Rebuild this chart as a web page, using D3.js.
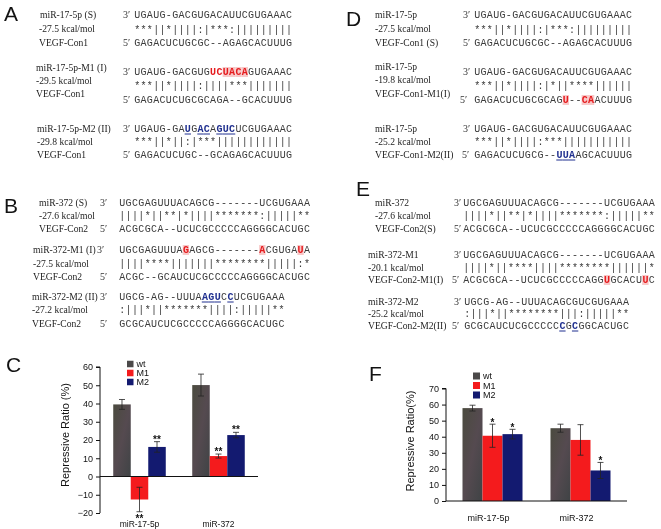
<!DOCTYPE html>
<html><head><meta charset="utf-8">
<script src="https://cdn.jsdelivr.net/npm/d3@7"></script>
<style>body{margin:0;background:#fff}svg{display:block}
.aa{opacity:0.995;will-change:transform}
text{-webkit-font-smoothing:antialiased}</style>
</head><body>
<script>
// ---------- DATA ----------
const categories = ["miR-17-5p", "miR-372"];
const seriesNames = ["wt", "M1", "M2"];

// Panel C
const cWt = [39.5, 50.1];
const cM1 = [-12.6, 11.2];
const cM2 = [16.2, 22.7];
const cWtErr = [2.7, 6.0];
const cM1Err = [6.7, 1.1];
const cM2Err = [2.9, 1.5];
const cWtSig = ["", ""];
const cM1Sig = ["**", "**"];
const cM2Sig = ["**", "**"];
const cTicks = [-20, -10, 0, 10, 20, 30, 40, 50, 60];

// Panel F
const fWt = [57.8, 45.3];
const fM1 = [40.6, 38.0];
const fM2 = [41.6, 19.0];
const fWtErr = [1.8, 2.5];
const fM1Err = [7.2, 9.5];
const fM2Err = [3.0, 5.0];
const fWtSig = ["", ""];
const fM1Sig = ["*", ""];
const fM2Sig = ["*", "*"];
const fTicks = [0, 10, 20, 30, 40, 50, 60, 70];

// Alignments (texts)
const alignA = [
  {mir:"miR-17-5p (S)", energy:"-27.5 kcal/mol", target:"VEGF-Con1",
   s3:"UGAUG-GACGUGACAUUCGUGAAAC", m:"***||*||||:|***:|||||||||", s5:"GAGACUCUGCGC--AGAGCACUUUG", hl3:{}, hl5:{}},
  {mir:"miR-17-5p-M1 (I)", energy:"-29.5 kcal/mol", target:"VEGF-Con1",
   s3:"UGAUG-GACGUGUCUACAGUGAAAC", m:"***||*||||:||||***|||||||", s5:"GAGACUCUGCGCAGA--GCACUUUG", hl3:{12:"r",13:"r",14:"R",15:"R",16:"R",17:"R"}, hl5:{}},
  {mir:"miR-17-5p-M2 (II)", energy:"-29.8 kcal/mol", target:"VEGF-Con1",
   s3:"UGAUG-GAUGACAGUCUCGUGAAAC", m:"***||*||:|***||||||||||||", s5:"GAGACUCUGC--GCAGAGCACUUUG", hl3:{8:"b",10:"b",11:"b",13:"b",14:"b",15:"b"}, hl5:{}}
];
const alignB = [
  {mir:"miR-372 (S)", energy:"-27.6 kcal/mol", target:"VEGF-Con2",
   s3:"UGCGAGUUUACAGCG-------UCGUGAAA", m:"||||*||**|*||||*******:|||||**", s5:"ACGCGCA--UCUCGCCCCCAGGGGCACUGC", hl3:{}, hl5:{}},
  {mir:"miR-372-M1 (I)", energy:"-27.5 kcal/mol", target:"VEGF-Con2",
   s3:"UGCGAGUUUAGAGCG-------ACGUGAUA", m:"||||****|||||||********|||||:*", s5:"ACGC--GCAUCUCGCCCCCAGGGGCACUGC", hl3:{10:"R",22:"R",28:"R"}, hl5:{}},
  {mir:"miR-372-M2 (II)", energy:"-27.2 kcal/mol", target:"VEGF-Con2",
   s3:"UGCG-AG--UUUAAGUCCUCGUGAAA", m:":|||*||*******||||:|||||**", s5:"GCGCAUCUCGCCCCCAGGGGCACUGC", hl3:{13:"b",14:"b",15:"b",17:"b"}, hl5:{}}
];
const alignD = [
  {mir:"miR-17-5p", energy:"-27.5 kcal/mol", target:"VEGF-Con1 (S)",
   s3:"UGAUG-GACGUGACAUUCGUGAAAC", m:"***||*||||:|***:|||||||||", s5:"GAGACUCUGCGC--AGAGCACUUUG", hl3:{}, hl5:{}},
  {mir:"miR-17-5p", energy:"-19.8 kcal/mol", target:"VEGF-Con1-M1(I)",
   s3:"UGAUG-GACGUGACAUUCGUGAAAC", m:"***||*||||:|*||****||||||", s5:"GAGACUCUGCGCAGU--CAACUUUG", hl3:{}, hl5:{14:"R",17:"R",18:"R"}},
  {mir:"miR-17-5p", energy:"-25.2 kcal/mol", target:"VEGF-Con1-M2(II)",
   s3:"UGAUG-GACGUGACAUUCGUGAAAC", m:"***||*||||:***|||||||||||", s5:"GAGACUCUGCG--UUAAGCACUUUG", hl3:{}, hl5:{13:"b",14:"b",15:"b"}}
];
const alignE = [
  {mir:"miR-372", energy:"-27.6 kcal/mol", target:"VEGF-Con2(S)",
   s3:"UGCGAGUUUACAGCG-------UCGUGAAA", m:"||||*||**|*||||*******:|||||**", s5:"ACGCGCA--UCUCGCCCCCAGGGGCACUGC", hl3:{}, hl5:{}},
  {mir:"miR-372-M1", energy:"-20.1 kcal/mol", target:"VEGF-Con2-M1(I)",
   s3:"UGCGAGUUUACAGCG-------UCGUGAAA", m:"||||*||****||||********||||||*", s5:"ACGCGCA--UCUCGCCCCCAGGUGCACUUC", hl3:{}, hl5:{22:"R",28:"R"}},
  {mir:"miR-372-M2", energy:"-25.2 kcal/mol", target:"VEGF-Con2-M2(II)",
   s3:"UGCG-AG--UUUACAGCGUCGUGAAA", m:":|||*||********|||:|||||**", s5:"GCGCAUCUCGCCCCCCGCGGCACUGC", hl3:{}, hl5:{15:"b",17:"b"}}
];

// ---------- DRAW ----------
const W = 661, H = 529;
const root = d3.select("body").append("svg").attr("width", W).attr("height", H);
root.append("rect").attr("width", W).attr("height", H).attr("fill", "#fff");
const svg = root.append("g").attr("class", "aa");
const defs = root.append("defs");
const grad = defs.append("linearGradient").attr("id","wtGrad").attr("x1","0").attr("y1","0").attr("x2","1").attr("y2","1");
grad.append("stop").attr("offset","0%").attr("stop-color","#4a4a3e");
grad.append("stop").attr("offset","50%").attr("stop-color","#54494f");
grad.append("stop").attr("offset","100%").attr("stop-color","#3e4244");

const colors = {wt:"url(#wtGrad)", M1:"#f41a1c", M2:"#12196f"};
const legendColors = {wt:"#4a4848", M1:"#f41a1c", M2:"#12196f"};

const SERIF = "'Liberation Serif','Times New Roman',serif";
const MONO = "'Liberation Mono','Courier New',monospace";
const SANS = "'Liberation Sans',Arial,sans-serif";
const SEQ_FS = 10;

function panelLetter(x, y, t) {
  svg.append("text").attr("x", x).attr("y", y).attr("font-family", SANS)
    .attr("font-size", 21).attr("fill", "#111").text(t);
}
function label(x, yc, t) {
  svg.append("text").attr("x", x).attr("y", yc + 3.3).attr("font-family", SERIF)
    .attr("font-size", 9.6).attr("fill", "#1a1a1a").text(t);
}
function prime(x, yc, t) {
  svg.append("text").attr("x", x).attr("y", yc + 3.4).attr("font-family", SERIF)
    .attr("font-size", 10).attr("fill", "#333").text(t + "\u2032");
}
function seq(x0, yc, str, cw, hl) {
  const g = svg.append("g");
  str.split("").forEach((ch, i) => {
    const h = hl ? hl[i] : undefined;
    const cx = x0 + (i + 0.5) * cw;
    if (h === "R") {
      g.append("rect").attr("x", cx - cw/2).attr("y", yc - 5).attr("width", cw).attr("height", 10)
        .attr("fill", "#f8c8c8");
    }
    g.append("text").attr("x", cx).attr("y", yc + 3.4)
      .attr("text-anchor", "middle").attr("font-family", MONO).attr("font-size", SEQ_FS)
      .attr("fill", h ? (h === "b" ? "#1f2f8f" : "#e5191c") : "#3a3a3a")
      .attr("font-weight", h ? "bold" : "normal").text(ch);
    if (h === "b") {
      g.append("line").attr("x1", cx - cw/2).attr("x2", cx + cw/2).attr("y1", yc + 5).attr("y2", yc + 5)
        .attr("stroke", "#1f2f8f").attr("stroke-width", 1);
    }
  });
}
function block(a, lx, ly, px3, px5, sx, sy, cw) {
  label(lx[0], ly[0], a.mir);
  label(lx[1], ly[1], a.energy);
  label(lx[2], ly[2], a.target);
  prime(px3, sy[0], "3");
  prime(px5, sy[2], "5");
  seq(sx, sy[0], a.s3, cw, a.hl3);
  seq(sx, sy[1], a.m, cw, {});
  seq(sx, sy[2], a.s5, cw, a.hl5);
}

// Panel A
panelLetter(4, 21, "A");
block(alignA[0], [40,39,39], [15,29,43], 123, 123, 134, [15,29.5,43], 6.33);
block(alignA[1], [36,36,36], [68,81,94], 123, 123, 134, [72,86,100], 6.33);
block(alignA[2], [37,37,37], [129,142,155], 123, 123, 134, [129,142,155], 6.33);

// Panel B
panelLetter(4, 213, "B");
block(alignB[0], [39,39,39], [203,216,229], 100, 100, 119, [203,216,229], 6.37);
block(alignB[1], [33,33,33], [250,264,277], 97, 100, 119, [250,264,277], 6.37);
block(alignB[2], [32,32,32], [297,310,324], 100, 100, 119, [297,310,324], 6.37);

// Panel D
panelLetter(346, 26, "D");
block(alignD[0], [375,375,375], [15,29,43], 463, 463, 474, [15,29.5,43], 6.33);
block(alignD[1], [375,375,375], [67,80,94], 463, 460, 474, [72,86,100], 6.33);
block(alignD[2], [375,375,375], [129,142,155], 463, 462, 474, [129,142,155], 6.33);

// Panel E
panelLetter(356, 196, "E");
block(alignE[0], [375,375,375], [203,216,229], 454, 454, 463, [203,216,229], 6.4);
block(alignE[1], [368,368,368], [255,268,280], 454, 452, 463, [255,268,280], 6.4);
block(alignE[2], [368,368,368], [302,314,326], 454, 452, 464, [302,314,326], 6.35);

// ---------- BAR CHARTS ----------
function barChart(opt) {
  const g = svg.append("g");
  const y = d3.scaleLinear().domain(opt.domain).range(opt.yRange);
  const x0 = d3.scaleBand().domain(categories).range(opt.xRange)
    .paddingInner(opt.pIn).paddingOuter(opt.pOut);
  const x1 = d3.scaleBand().domain(seriesNames).range([0, x0.bandwidth()]);
  const series = seriesNames.map((s, k) => ({name: s, vals: opt.vals[k], errs: opt.errs[k], sig: opt.sig[k]}));

  series.forEach(s => {
    categories.forEach((c, i) => {
      const v = s.vals[i], e = s.errs[i];
      const bx = x0(c) + x1(s.name);
      g.append("rect").attr("x", bx).attr("width", x1.bandwidth())
        .attr("y", y(Math.max(0, v))).attr("height", Math.abs(y(v) - y(0)))
        .attr("fill", colors[s.name]);
      const cx = bx + x1.bandwidth() / 2;
      const cap = 3;
      g.append("line").attr("x1", cx).attr("x2", cx).attr("y1", y(v - e)).attr("y2", y(v + e))
        .attr("stroke", "#222").attr("stroke-width", 0.8);
      [v - e, v + e].forEach(vv => g.append("line").attr("x1", cx - cap).attr("x2", cx + cap)
        .attr("y1", y(vv)).attr("y2", y(vv)).attr("stroke", "#222").attr("stroke-width", 0.8));
      if (s.sig[i]) {
        const ty = v >= 0 ? y(v + e) + opt.sigUp : y(v - e) + 10.5;
        g.append("text").attr("x", cx).attr("y", ty).attr("text-anchor", "middle")
          .attr("font-family", SANS).attr("font-size", 10).attr("font-weight", "bold")
          .attr("fill", "#111").text(s.sig[i]);
      }
    });
  });

  const yAxis = d3.axisLeft(y).tickValues(opt.ticks).tickSize(4).tickPadding(3);
  const ya = g.append("g").attr("transform", `translate(${opt.xRange[0]},0)`).call(yAxis);
  ya.selectAll("text").attr("font-family", SANS).attr("font-size", 9).attr("fill", "#111");
  ya.selectAll("line").attr("stroke", "#111");
  ya.select(".domain").attr("stroke", "#111").attr("d", `M-4,${opt.yRange[1]}H0V${opt.yRange[0]}`);
  g.append("line").attr("x1", opt.xRange[0]).attr("x2", opt.xRange[1])
    .attr("y1", y(0)).attr("y2", y(0)).attr("stroke", "#111").attr("stroke-width", 1);

  categories.forEach(c => {
    g.append("text").attr("x", x0(c) + x0.bandwidth() / 2 + (opt.catDx || 0)).attr("y", opt.catY)
      .attr("text-anchor", "middle").attr("font-family", SANS).attr("font-size", opt.catSize)
      .attr("fill", "#111").text(c);
  });
  g.append("text").attr("transform", `translate(${opt.yLabelX},${opt.yLabelY}) rotate(-90)`)
    .attr("text-anchor", "middle").attr("font-family", SANS).attr("font-size", 11)
    .attr("fill", "#111").text(opt.yLabel);
  seriesNames.forEach((s, k) => {
    const ly = opt.legY + k * opt.legStep;
    g.append("rect").attr("x", opt.legX).attr("y", ly - opt.legBox/2).attr("width", opt.legBox).attr("height", opt.legBox)
      .attr("fill", legendColors[s]);
    g.append("text").attr("x", opt.legX + opt.legBox + 3).attr("y", ly + 3.2)
      .attr("font-family", SANS).attr("font-size", 9).attr("fill", "#111").text(s);
  });
}

panelLetter(6, 372, "C");
barChart({
  domain: [-20, 60], yRange: [513, 367], xRange: [100, 258], pIn: 0.335, pOut: 0.1675,
  vals: [cWt, cM1, cM2], errs: [cWtErr, cM1Err, cM2Err], sig: [cWtSig, cM1Sig, cM2Sig],
  ticks: cTicks, sigUp: 1, catY: 527, catSize: 8.5, catDx: 0,
  yLabel: "Repressive Ratio (%)", yLabelX: 69, yLabelY: 435,
  legX: 127, legY: 364, legStep: 9, legBox: 6.5
});

panelLetter(369, 381, "F");
barChart({
  domain: [0, 70], yRange: [501, 388.5], xRange: [446, 627], pIn: 0.318, pOut: 0.1875,
  vals: [fWt, fM1, fM2], errs: [fWtErr, fM1Err, fM2Err], sig: [fWtSig, fM1Sig, fM2Sig],
  ticks: fTicks, sigUp: 2, catY: 521, catSize: 9, catDx: -4,
  yLabel: "Repressive Ratio(%)", yLabelX: 414, yLabelY: 441,
  legX: 473, legY: 376, legStep: 9.5, legBox: 7
});
</script>
</body></html>
